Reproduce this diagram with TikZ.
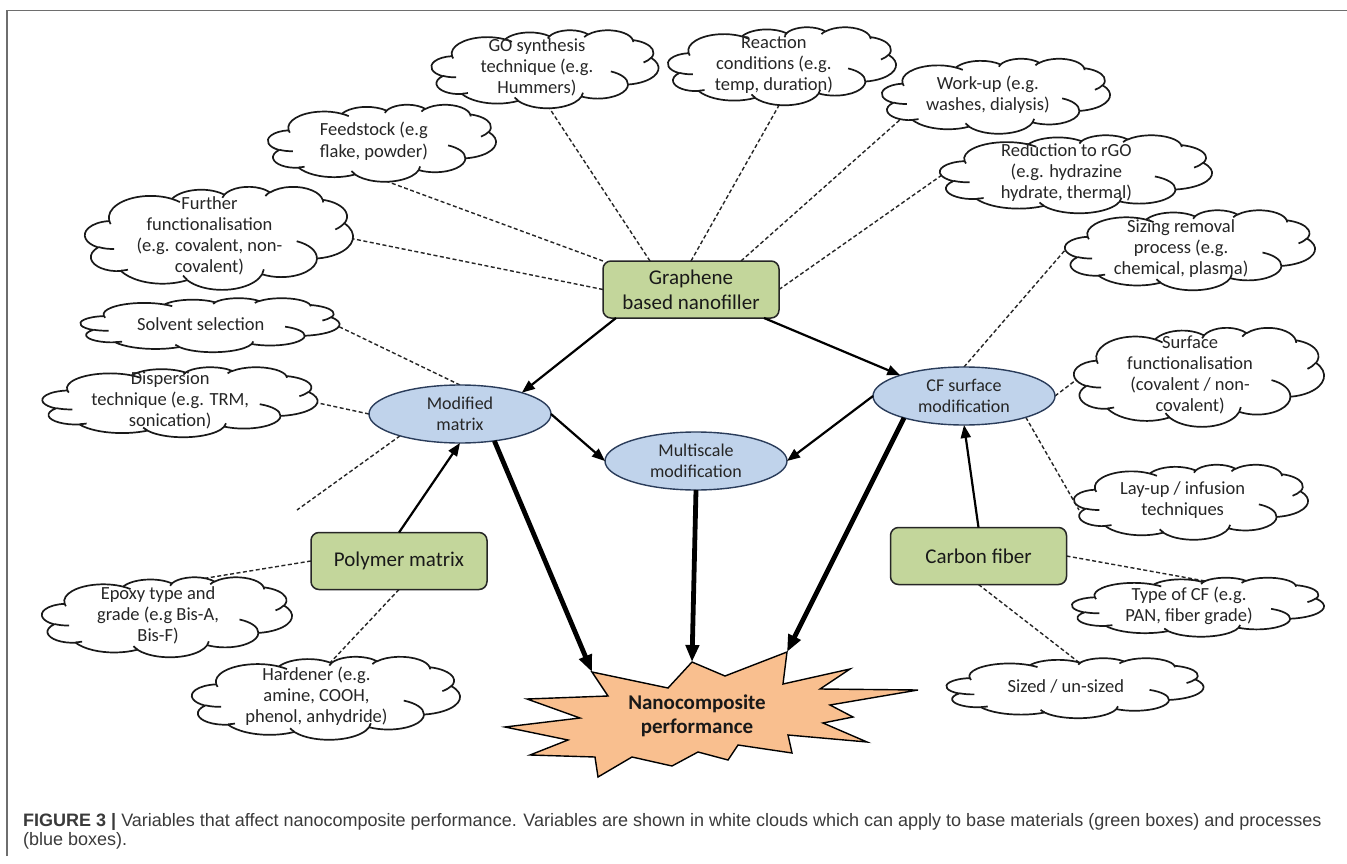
\documentclass[tikz,border=0pt]{standalone}
\usepackage{fontspec}
\setmainfont{Carlito}
\newfontfamily\capfont{Liberation Sans}
\usetikzlibrary{shapes.geometric,arrows.meta,calc}
\pgfdeclarelayer{edges}
\pgfsetlayers{edges,main}
\definecolor{gfill}{HTML}{C3D69B}
\definecolor{bfill}{HTML}{C0D3EB}
\definecolor{bline}{HTML}{2A3C5A}
\definecolor{sfill}{HTML}{F9BF8F}
\definecolor{framecol}{HTML}{6E6E6E}
\definecolor{captxt}{HTML}{3A3A3A}

\newcommand\cloudarcdef[5]{%
  \pgfmathsetmacro\ctA{atan2(#2*sin(#4),#3*cos(#4))}%
  \pgfmathsetmacro\ctB{atan2(#2*sin(#4+#5),#3*cos(#4+#5))}%
  \pgfmathsetmacro\ctD{\ctB-\ctA}%
  \pgfmathsetmacro\ctD{\ctD+360*(\ctD<0)}%
  \pgfmathsetmacro\ctE{\ctA+\ctD}%
  \expandafter\xdef\csname cloudarc#1\endcsname{arc[x radius=#2,y radius=#3,start angle=\ctA,end angle=\ctE]}%
}
\cloudarcdef{oa}{67.53}{91.90}{-190.4875}{123.7805}
\cloudarcdef{ob}{53.33}{72.67}{-144.1024}{89.9452}
\cloudarcdef{oc}{43.65}{59.45}{-145.8079}{99.7230}
\cloudarcdef{od}{48.57}{65.95}{-130.9861}{117.2417}
\cloudarcdef{oe}{53.33}{72.73}{-78.7089}{109.0269}
\cloudarcdef{of}{67.75}{92.20}{-46.2673}{130.2690}
\cloudarcdef{og}{57.85}{78.67}{0.6250}{114.0333}
\cloudarcdef{oh}{67.52}{92.15}{22.4516}{115.1726}
\cloudarcdef{oi}{77.20}{105.43}{66.2426}{75.7110}
\cloudarcdef{oj}{43.60}{59.18}{-274.9421}{146.7356}
\cloudarcdef{ok}{43.45}{59.45}{-246.8285}{152.5189}
\cloudarcdef{ia}{43.45}{59.45}{86.7420}{26.4295}
\cloudarcdef{ib}{43.60}{59.18}{73.6105}{11.4475}
\cloudarcdef{ic}{67.52}{92.15}{137.6242}{14.0811}
\cloudarcdef{id}{67.52}{92.15}{6.4533}{15.9984}
\cloudarcdef{ie}{57.85}{78.67}{-70.2924}{70.9174}
\cloudarcdef{if}{53.33}{72.73}{30.3180}{27.7515}
\cloudarcdef{ig}{48.57}{65.95}{-13.7443}{14.8589}
\cloudarcdef{ih}{48.57}{65.95}{-149.1815}{18.1954}
\cloudarcdef{ii}{43.65}{59.45}{-163.4943}{17.6864}
\cloudarcdef{ij}{67.53}{91.90}{-66.7070}{12.3194}
\cloudarcdef{ik}{67.53}{91.90}{157.6544}{11.8582}
\xdef\cloudouterpath{(39,143.7) \cloudarcoa \cloudarcob \cloudarcoc \cloudarcod \cloudarcoe \cloudarcof \cloudarcog \cloudarcoh \cloudarcoi \cloudarcoj \cloudarcok -- cycle}
\xdef\cloudinnerpath{(46.93,261.77) \cloudarcia (69.28,348.99) \cloudarcib (164.78,390.90) \cloudarcic (288.27,347.51) \cloudarcid (341.29,229.54) \cloudarcie (417.98,153.54) \cloudarcif (383.24,54.26) \cloudarcig (290.78,39.52) \cloudarcih (221.41,47.20) \cloudarcii (140.00,51.92) \cloudarcij (41.27,157.89) \cloudarcik}

% name, cx, cy, w, h, text
\newcommand\ocloud[6]{%
  \pgfmathsetmacro\ocX{#2-#4/2}%
  \pgfmathsetmacro\ocY{#3-#5/2}%
  \pgfmathsetmacro\ocSX{#4/432}%
  \pgfmathsetmacro\ocSY{#5/432}%
  \begin{scope}[shift={(\ocX,\ocY)},x=\ocSX pt,y=-\ocSY pt]
    \edef\ocTmp{\noexpand\draw[cloudline,fill=white] \cloudouterpath; \noexpand\draw[cloudline] \cloudinnerpath;}%
    \ocTmp
  \end{scope}
  \node[cloudbox,minimum width=#4pt,minimum height=#5pt] (#1) at (#2,#3) {};
  \pgfmathsetmacro\ocTX{#2-0.0356*#4}%
  \pgfmathsetmacro\ocTY{#3-0.023*#5}%
  \node[cloudtext] (#1-t) at (\ocTX,\ocTY) {#6};
}

\begin{document}
\begin{tikzpicture}[x=1pt,y=-1pt,
  cloudline/.style={line width=1.7pt,draw=black!90,line join=round},
  cloudbox/.style={rectangle,inner sep=0pt,outer sep=0pt},
  cloudtext/.style={align=center,font=\fontsize{18.5}{21}\selectfont,text=black!85,inner sep=0pt},
  gbox/.style={rectangle,rounded corners=8pt,draw=black!85,line width=1.5pt,fill=gfill,
    minimum width=176pt,minimum height=57pt,inner sep=0pt,outer sep=0pt,align=center,
    font=\fontsize{21}{25}\selectfont,text=black!90},
  bell/.style={ellipse,draw=bline,line width=1.4pt,fill=bfill,minimum width=182pt,
    minimum height=58pt,inner sep=0pt,outer sep=0pt,align=center,
    font=\fontsize{18}{21}\selectfont,text=black!85},
  dsh/.style={dash pattern=on 4pt off 2.5pt,line width=1.4pt,draw=black!85},
  arr/.style={-{Triangle[length=13pt,width=10pt]},line width=2.2pt,draw=black},
  tarr/.style={-{Triangle[length=17pt,width=13pt]},line width=4.8pt,draw=black},
  starline/.style={draw=black,line width=1.4pt,line join=miter,fill=sfill},
  startext/.style={align=center,font=\bfseries\fontsize{21}{24}\selectfont,text=black!90,inner sep=0pt},
  captext/.style={anchor=base west,inner sep=0pt,font=\capfont\fontsize{18}{19}\selectfont,text=captxt}]
\useasboundingbox (0,0) rectangle (1347,864);
\begin{pgfonlayer}{edges}
\fill[white] (0,0) rectangle (1347,864);
\end{pgfonlayer}
\draw[framecol,line width=1.5pt] (7,856) -- (7,10.5) -- (1347,10.5);

% boxes and ellipses
\node[gbox] (graphene) at (691,289.5) {Graphene\\based nanofiller};
\node[gbox] (polymer) at (399,561) {Polymer matrix};
\node[gbox] (carbon) at (978.5,556) {Carbon fiber};
\node[bell] (modmat) at (460,414) {Modified\\matrix};
\node[bell] (multi) at (696,461) {Multiscale\\modification};
\node[bell] (cfsurf) at (964,396) {CF surface\\modification};

% star
\draw[starline] (592,672) -- (668,688) -- (692,662) -- (725,676) -- (787,652) -- (783,684)
  -- (850,669) -- (820,689) -- (918,690) -- (830,705) -- (853,717) -- (823,723) -- (867,742)
  -- (788,735) -- (792,753) -- (738,745) -- (728,760) -- (698,752) -- (672,766) -- (632,757)
  -- (598,777) -- (595,757) -- (530,755) -- (568,740) -- (505,727) -- (580,718) -- (527,699)
  -- (608,696) -- cycle;
\coordinate (sA) at (592,672);
\coordinate (sB) at (692,662);
\coordinate (sC) at (787,652);
\node[startext] (perf) at (697,716) {Nanocomposite\\performance};

% clouds
\ocloud{go}{545}{69}{227}{78}{GO synthesis\\technique (e.g.\\Hummers)}
\ocloud{react}{782}{66}{228}{78}{Reaction\\conditions (e.g.\\temp, duration)}
\ocloud{workup}{996}{96}{228}{75}{Work-up (e.g.\\washes, dialysis)}
\ocloud{reduc}{1076}{174}{272}{78}{Reduction to rGO\\(e.g. hydrazine\\hydrate, thermal)}
\ocloud{sizing}{1190}{250}{250}{80}{Sizing removal\\process (e.g.\\chemical, plasma)}
\ocloud{feed}{382}{143}{228}{77}{Feedstock (e.g\\flake, powder)}
\ocloud{further}{219}{238}{268}{103}{Further\\functionalisation\\(e.g. covalent, non-\\covalent)}
\ocloud{solvent}{210}{325}{259}{54}{Solvent selection}
\ocloud{disp}{180}{402}{275}{70}{Dispersion\\technique (e.g. TRM,\\sonication)}
\ocloud{surf}{1199}{377}{250}{99}{Surface\\functionalisation\\(covalent / non-\\covalent)}
\ocloud{layup}{1191}{502}{234}{75}{Lay-up / infusion\\techniques}
\ocloud{typecf}{1198}{607}{252}{59}{Type of CF (e.g.\\PAN, fiber grade)}
\ocloud{sized}{1075}{688}{257}{60}{Sized / un-sized}
\ocloud{epoxy}{167}{617}{250}{80}{Epoxy type and\\grade (e.g Bis-A,\\Bis-F)}
\ocloud{hard}{326}{698}{268}{83}{Hardener (e.g.\\amine, COOH,\\phenol, anhydride)}

\coordinate (freeend) at (297,510);

% dashed connectors (behind the clouds)
\begin{pgfonlayer}{edges}
\draw[dsh] ([xshift=47pt]graphene.north west) -- ($(go.south)+(1,-5)$);
\draw[dsh] (graphene.north) -- ($(react.south)+(0,-5)$);
\draw[dsh] ([xshift=-38pt]graphene.north east) -- ($(workup.south)+(-89.5,-19.5)$);
\draw[dsh] (graphene.east) -- ($(reduc.west)+(7,-2.5)$);
\draw[dsh] (cfsurf.north) -- ($(sizing.west)+(4,-4.5)$);
\draw[dsh] (graphene.north west) -- ($(feed.south)+(-3,-3)$);
\draw[dsh] (graphene.west) -- ($(further.east)+(-4,0)$);
\draw[dsh] (modmat.north) -- ($(solvent.east)+(-4,0)$);
\draw[dsh] (modmat.west) -- ($(disp.east)+(-4,0)$);
\draw[dsh] (modmat.200) -- (freeend);
\draw[dsh] (polymer.west) -- ($(epoxy.north)+(3,7)$);
\draw[dsh] (polymer.south) -- ($(hard.north)+(3,7.5)$);
\draw[dsh] (cfsurf.east) -- ($(surf.west)+(6,0)$);
\draw[dsh] (cfsurf.-19) -- ($(layup.west)+(5,8)$);
\draw[dsh] (carbon.east) -- ($(typecf.north)+(7,3.5)$);
\draw[dsh] (carbon.south) -- ($(sized.north)+(6,6)$);
\end{pgfonlayer}

% arrows
\draw[arr] ([xshift=13pt]graphene.south west) -- (modmat.19);
\draw[arr] ([xshift=-15pt]graphene.south east) -- (cfsurf.162);
\draw[arr] (modmat.east) -- (multi.west);
\draw[arr] (cfsurf.west) -- (multi.east);
\draw[arr] (polymer.north) -- (modmat.south);
\draw[arr] (carbon.north) -- (cfsurf.south);
\draw[tarr] (modmat.-38) -- (sA);
\draw[tarr] (multi.south) -- (sB);
\draw[tarr] (cfsurf.-160) -- (sC);

% caption
\node[captext] (cap1) at (23,826) {{\bfseries FIGURE 3 |} Variables that affect nanocomposite performance. Variables are shown in white clouds which can apply to base materials (green boxes) and processes};
\node[captext] (cap2) at (23,845) {(blue boxes).};
\end{tikzpicture}
\end{document}
